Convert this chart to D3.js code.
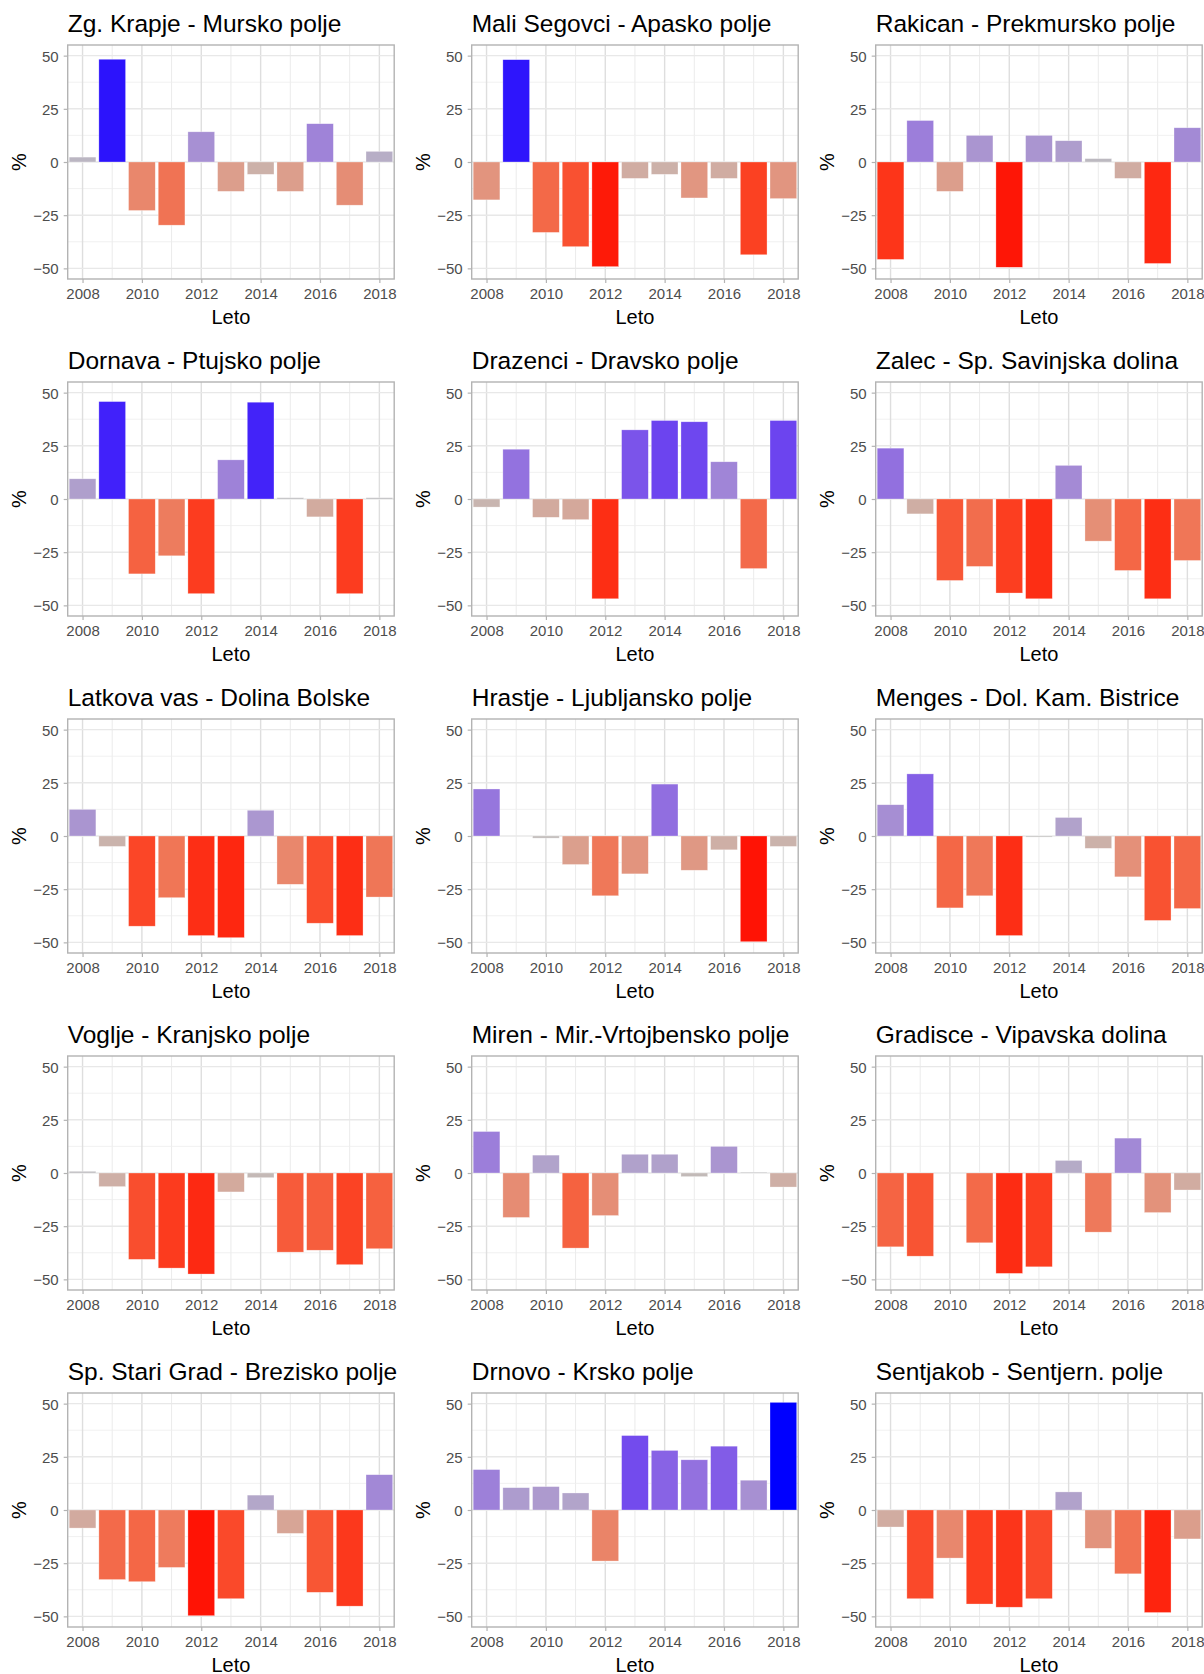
<!DOCTYPE html>
<html>
<head>
<meta charset="utf-8">
<script src="https://cdn.jsdelivr.net/npm/d3@7"></script>
<style>
  html, body { margin: 0; padding: 0; background: #ffffff; }
  svg { display: block; font-family: "Liberation Sans", Arial, sans-serif; }
</style>
</head>
<body>
<script>
// ---------- DATA ----------
const years = [2008, 2009, 2010, 2011, 2012, 2013, 2014, 2015, 2016, 2017, 2018];
const xTickLabels = [2008, 2010, 2012, 2014, 2016, 2018];
const yTickLabels = [-50, -25, 0, 25, 50];
const titles = [
  "Zg. Krapje - Mursko polje", "Mali Segovci - Apasko polje", "Rakican - Prekmursko polje",
  "Dornava - Ptujsko polje", "Drazenci - Dravsko polje", "Zalec - Sp. Savinjska dolina",
  "Latkova vas - Dolina Bolske", "Hrastje - Ljubljansko polje", "Menges - Dol. Kam. Bistrice",
  "Voglje - Kranjsko polje", "Miren - Mir.-Vrtojbensko polje", "Gradisce - Vipavska dolina",
  "Sp. Stari Grad - Brezisko polje", "Drnovo - Krsko polje", "Sentjakob - Sentjern. polje"
];
const zgKrapje     = [2.3, 48.3, -22.8, -29.7, 14.2, -13.8, -5.8, -13.8, 18.0, -20.3, 5.0];
const maliSegovci  = [-17.8, 48.1, -33.1, -39.8, -49.2, -7.7, -5.8, -16.9, -7.7, -43.6, -17.2];
const rakican      = [-45.8, 19.5, -13.8, 12.5, -49.5, 12.5, 10.0, 1.6, -7.7, -47.7, 16.1];
const dornava      = [9.5, 45.8, -35.2, -26.7, -44.5, 18.4, 45.5, 0.6, -8.4, -44.5, 0.6];
const drazenci     = [-3.8, 23.4, -8.6, -9.7, -46.9, 32.5, 36.9, 36.3, 17.5, -32.7, 36.9];
const zalec        = [23.9, -7.0, -38.3, -31.7, -44.2, -46.9, 15.8, -19.8, -33.6, -46.9, -28.9];
const latkovaVas   = [12.5, -4.9, -42.4, -29.0, -46.8, -47.8, 12.1, -22.7, -41.0, -46.8, -28.7];
const hrastje      = [22.1, null, -1.0, -13.4, -28.1, -17.8, 24.4, -16.1, -6.5, -49.7, -4.9];
const menges       = [14.7, 29.2, -33.8, -28.1, -46.8, -0.5, 8.7, -5.8, -19.2, -39.7, -34.1];
const voglje       = [0.8, -6.4, -40.6, -44.7, -47.5, -8.9, -2.2, -37.2, -36.3, -43.1, -35.6];
const miren        = [19.5, -20.9, 8.4, -35.3, -20.0, 8.8, 8.8, -1.7, 12.5, 0.4, -6.6];
const gradisce     = [-34.7, -39.1, null, -32.8, -47.2, -44.1, 5.9, -27.8, 16.4, -18.6, -8.0];
const spStariGrad  = [-8.5, -32.7, -33.7, -27.0, -49.7, -41.7, 7.0, -11.0, -38.7, -45.2, 16.6];
const drnovo       = [19.0, 10.5, 11.0, 8.0, -24.0, 35.0, 28.0, 23.6, 30.0, 14.0, 50.6];
const sentjakob    = [-8.0, -41.7, -22.6, -44.2, -45.7, -41.7, 8.5, -18.0, -30.0, -48.2, -13.6];
const series = [zgKrapje, maliSegovci, rakican, dornava, drazenci, zalec, latkovaVas, hrastje,
                menges, voglje, miren, gradisce, spStariGrad, drnovo, sentjakob];

// ---------- LAYOUT ----------
const W = 1204, H = 1674;
const panelW = 326.5, panelH = 234;
const colX0 = 67.7, colPitch = 404;
const rowY0 = 45, rowPitch = 337;

const svg = d3.select("body").append("svg").attr("width", W).attr("height", H);

const allVals = series.flat().filter(v => v !== null);
const maxAbs = d3.max(allVals, v => Math.abs(v));
const color = d3.scaleLinear()
  .domain([-maxAbs, 0, maxAbs])
  .range(["#ff0000", "#bebebe", "#0000ff"])
  .interpolate(d3.interpolateLab)
  .clamp(true);

series.forEach((vals, i) => {
  const c = i % 3, r = Math.floor(i / 3);
  const px = colX0 + c * colPitch, py = rowY0 + r * rowPitch;
  const g = svg.append("g").attr("transform", `translate(${px},${py})`);

  const x = d3.scaleLinear().domain([2007.5, 2018.5]).range([0, panelW]);
  const y = d3.scaleLinear().domain([-55, 55]).range([panelH, 0]);

  // minor grid
  const minorX = d3.range(2009, 2018, 2);
  const minorY = [-37.5, -12.5, 12.5, 37.5];
  g.selectAll(".mx").data(minorX).join("line")
    .attr("x1", d => x(d)).attr("x2", d => x(d)).attr("y1", 0).attr("y2", panelH)
    .attr("stroke", "#e6e6e6").attr("stroke-width", 0.8);
  g.selectAll(".my").data(minorY).join("line")
    .attr("y1", d => y(d)).attr("y2", d => y(d)).attr("x1", 0).attr("x2", panelW)
    .attr("stroke", "#eeeeee").attr("stroke-width", 0.8);
  // major grid
  g.selectAll(".gx").data(xTickLabels).join("line")
    .attr("x1", d => x(d)).attr("x2", d => x(d)).attr("y1", 0).attr("y2", panelH)
    .attr("stroke", "#dedede").attr("stroke-width", 1.4);
  g.selectAll(".gy").data(yTickLabels).join("line")
    .attr("y1", d => y(d)).attr("y2", d => y(d)).attr("x1", 0).attr("x2", panelW)
    .attr("stroke", "#e8e8e8").attr("stroke-width", 1.4);

  // bars
  const data = years.map((yr, k) => ({ yr, v: vals[k] })).filter(d => d.v !== null);
  g.selectAll(".bar").data(data).join("rect")
    .attr("x", d => x(d.yr - 0.45))
    .attr("width", d => x(d.yr + 0.45) - x(d.yr - 0.45))
    .attr("y", d => y(Math.max(0, d.v)))
    .attr("height", d => Math.abs(y(d.v) - y(0)))
    .attr("fill", d => color(d.v))
    .attr("stroke", "#ffffff").attr("stroke-opacity", 0.5).attr("stroke-width", 0.6);

  // border
  g.append("rect").attr("x", 0).attr("y", 0).attr("width", panelW).attr("height", panelH)
    .attr("fill", "none").attr("stroke", "#b3b3b3").attr("stroke-width", 1.4);

  // axes
  const xAxis = d3.axisBottom(x).tickValues(xTickLabels).tickFormat(d3.format("d")).tickSize(4).tickPadding(5);
  const gx = g.append("g").attr("transform", `translate(0,${panelH})`).call(xAxis);
  const yAxis = d3.axisLeft(y).tickValues(yTickLabels).tickFormat(d3.format("d")).tickSize(4).tickPadding(5);
  const gy = g.append("g").call(yAxis);
  [gx, gy].forEach(a => {
    a.select(".domain").remove();
    a.selectAll(".tick line").attr("stroke", "#b3b3b3").attr("stroke-width", 1.2);
    a.selectAll(".tick text").attr("fill", "#4d4d4d").style("font-size", "15px")
      .style("font-family", '"Liberation Sans", Arial, sans-serif');
  });
  gy.selectAll(".tick text").attr("dy", "0.36em");

  // titles
  g.append("text").attr("x", 0).attr("y", -13.3).text(titles[i])
    .style("font-size", "24.5px").attr("fill", "#000");
  g.append("text").attr("x", panelW / 2).attr("y", panelH + 45).attr("text-anchor", "middle")
    .text("Leto").style("font-size", "20px").attr("fill", "#000");
  g.append("text").attr("transform", `translate(-42,${panelH / 2}) rotate(-90)`)
    .attr("text-anchor", "middle").text("%").style("font-size", "20px").attr("fill", "#000");
});
</script>
</body>
</html>
